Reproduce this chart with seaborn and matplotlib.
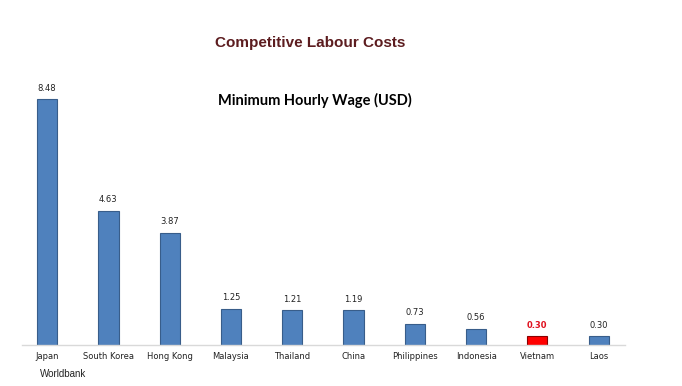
import pandas as pd
import seaborn as sns
import matplotlib
matplotlib.use("Agg")
import matplotlib.pyplot as plt

# data
countries = ["Japan", "South Korea", "Hong Kong", "Malaysia", "Thailand",
             "China", "Philippines", "Indonesia", "Vietnam", "Laos"]
wages = [8.48, 4.63, 3.87, 1.25, 1.21, 1.19, 0.73, 0.56, 0.30, 0.30]
highlight = "Vietnam"

df = pd.DataFrame({"country": countries, "wage": wages})

sns.set_theme(style="white")
plt.rcParams['font.family'] = ['DejaVu Sans']

fig = plt.figure(figsize=(6.82, 3.86), dpi=100)
ax = fig.add_axes([22 / 682, 41 / 386, 603 / 682, 275 / 386])

blue = "#4f81bd"
red = "#ff0000"
pal = {c: (red if c == highlight else blue) for c in countries}

sns.barplot(data=df, x="country", y="wage", hue="country", palette=pal,
            order=countries, width=0.33, saturation=1, legend=False,
            edgecolor="#385d8a", linewidth=0.8, ax=ax)

for patch, c in zip(ax.patches, countries):
    if c == highlight:
        patch.set_edgecolor("#8b0000")

ax.set_xlim(-0.41, 9.43)
ax.set_ylim(0, 9.48)

# value labels
for i, (c, v) in enumerate(zip(countries, wages)):
    col = "#e0101e" if c == highlight else "#222222"
    wt = "bold" if c == highlight else "normal"
    ax.text(i, v + 0.22, f"{v:.2f}", ha="center", va="bottom",
            fontsize=6, color=col, fontweight=wt)

ax.set_xlabel("")
ax.set_ylabel("")
ax.set_yticks([])
ax.tick_params(axis="x", labelsize=6, length=0, pad=5, colors="#222222")
for s in ["top", "left", "right"]:
    ax.spines[s].set_visible(False)
ax.spines["bottom"].set_color("#d9d9d9")
ax.spines["bottom"].set_linewidth(1)

fig.text(310 / 682, 1 - 43 / 386, "Competitive Labour Costs", ha="center",
         va="center", fontsize=11, fontweight="bold", color="#5c1c1f",
         family=["Liberation Sans", "DejaVu Sans"])
fig.text(315 / 682, 1 - 100 / 386, "Minimum Hourly Wage (USD)", ha="center",
         va="center", fontsize=10.5, fontweight="bold", color="black",
         family=["Lato", "DejaVu Sans"])
fig.text(40 / 682, 1 - 374 / 386, "Worldbank", ha="left", va="center",
         fontsize=7, color="#222222", family=["Liberation Sans", "DejaVu Sans"])

fig.savefig("out.png", dpi=100)
